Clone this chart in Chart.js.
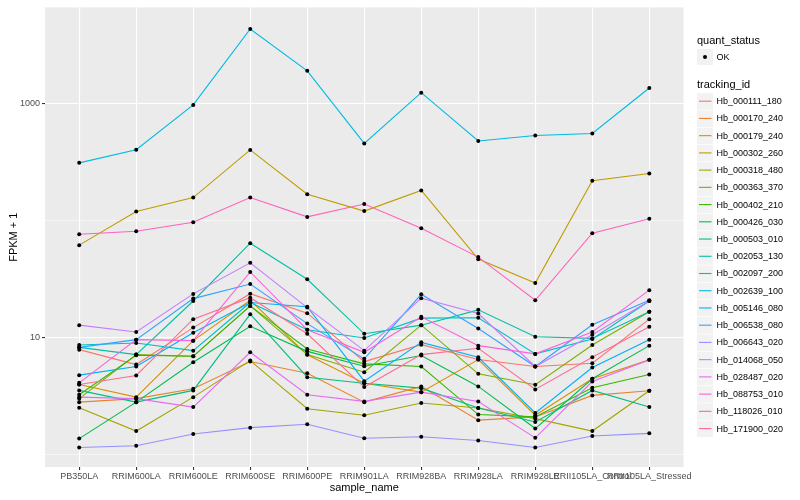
<!DOCTYPE html>
<html>
<head>
<meta charset="utf-8">
<script src="https://cdn.jsdelivr.net/npm/chart.js@4.4.1/dist/chart.umd.min.js"></script>
<style>
body { margin: 0; background: #fff; }
</style>
</head>
<body>
<canvas id="grafico" width="800" height="500"></canvas>
<script>
// amostras no eixo x
var amostras = ["PB350LA", "RRIM600LA", "RRIM600LE", "RRIM600SE", "RRIM600PE", "RRIM901LA",
    "RRIM928BA", "RRIM928LA", "RRIM928LE", "RRII105LA_Control", "RRII105LA_Stressed"];

// valores FPKM + 1 por gene
var hb_000111_180 = [7.90, 5.89, 12.2, 23.8, 16.2, 6.25, 8.72, 6.50, 5.67, 6.04, 14.4];
var hb_000170_240 = [2.81, 3.01, 3.66, 6.25, 4.97, 2.81, 3.83, 1.97, 2.10, 3.21, 3.52];
var hb_000179_240 = [3.98, 3.10, 9.43, 20.9, 7.13, 4.08, 3.42, 6.50, 2.17, 4.45, 6.46];
var hb_000302_260 = [61.9, 120, 158, 404, 169, 121, 182, 47.0, 29.4, 220, 254];
var hb_000318_480 = [2.52, 1.59, 3.10, 6.37, 2.47, 2.17, 2.76, 2.50, 2.03, 1.59, 3.52];
var hb_000363_370 = [3.01, 7.17, 6.93, 18.7, 7.17, 5.07, 12.8, 4.91, 3.96, 8.67, 16.7];
var hb_000402_210 = [3.25, 7.07, 6.93, 18.7, 8.01, 5.97, 5.67, 2.20, 2.10, 3.73, 4.84];
var hb_000426_030 = [1.37, 2.81, 6.16, 12.5, 7.64, 5.70, 7.03, 3.83, 1.67, 4.45, 8.55];
var hb_000503_010 = [3.54, 2.81, 3.54, 15.9, 4.59, 4.08, 3.70, 2.50, 1.90, 3.54, 2.55];
var hb_002053_130 = [8.27, 7.17, 20.6, 64.3, 31.6, 10.8, 12.8, 17.3, 10.2, 9.86, 16.7];
var hb_002097_200 = [8.67, 9.01, 7.75, 20.0, 11.7, 9.94, 14.7, 14.8, 7.27, 9.75, 20.6];
var hb_002639_100 = [313, 406, 981, 4374, 1920, 459, 1248, 482, 537, 559, 1368];
var hb_005146_080 = [4.78, 5.67, 11.0, 20.0, 18.4, 4.25, 9.12, 6.80, 2.27, 5.55, 9.62];
var hb_006538_080 = [8.27, 9.62, 21.6, 28.8, 13.2, 6.59, 23.5, 12.0, 5.67, 12.9, 20.9];
var hb_006643_020 = [1.15, 1.19, 1.50, 1.70, 1.82, 1.38, 1.42, 1.32, 1.15, 1.44, 1.52];
var hb_014068_050 = [12.8, 11.2, 23.7, 43.7, 18.1, 7.75, 21.8, 16.1, 5.67, 10.6, 20.6];
var hb_028487_020 = [3.10, 3.01, 2.55, 7.50, 3.25, 2.85, 3.42, 2.85, 1.39, 4.22, 6.46];
var hb_088753_010 = [4.11, 9.62, 9.43, 36.5, 11.7, 7.50, 15.1, 8.55, 7.27, 11.2, 25.5];
var hb_118026_010 = [76.8, 81.4, 97.1, 158, 108, 139, 86.3, 48.9, 20.9, 78.3, 104];
var hb_171900_020 = [3.98, 4.75, 14.4, 22.0, 10.8, 3.78, 7.17, 8.11, 3.61, 6.80, 12.4];

var genes = ["Hb_000111_180", "Hb_000170_240", "Hb_000179_240", "Hb_000302_260", "Hb_000318_480",
    "Hb_000363_370", "Hb_000402_210", "Hb_000426_030", "Hb_000503_010", "Hb_002053_130",
    "Hb_002097_200", "Hb_002639_100", "Hb_005146_080", "Hb_006538_080", "Hb_006643_020",
    "Hb_014068_050", "Hb_028487_020", "Hb_088753_010", "Hb_118026_010", "Hb_171900_020"];
var valores = [hb_000111_180, hb_000170_240, hb_000179_240, hb_000302_260, hb_000318_480,
    hb_000363_370, hb_000402_210, hb_000426_030, hb_000503_010, hb_002053_130,
    hb_002097_200, hb_002639_100, hb_005146_080, hb_006538_080, hb_006643_020,
    hb_014068_050, hb_028487_020, hb_088753_010, hb_118026_010, hb_171900_020];
var yTicks = [1, 10, 100, 1000];
var yLabels = [10, 1000];

var cores = ["#F8766D", "#EA8331", "#D89000", "#C09B00", "#A3A500", "#7CAE00", "#39B600",
    "#00BB4E", "#00BF7D", "#00C1A3", "#00BFC4", "#00BAE0", "#00B0F6", "#35A2FF",
    "#9590FF", "#C77CFF", "#E76BF3", "#FA62DB", "#FF62BC", "#FF6C91"];

var fonte = "'Liberation Sans', Arial, sans-serif";

var datasets = [];
var pontos = [];
valores.forEach(function(serie, i) {
    var d = serie.map(function(v, j) { return {x: j + 1, y: v}; });
    datasets.push({
        label: genes[i],
        data: d,
        borderColor: cores[i],
        backgroundColor: cores[i],
        borderWidth: 1.1,
        pointRadius: 0,
        fill: false,
        order: 100 - i
    });
    pontos = pontos.concat(d);
});
datasets.push({
    label: "OK",
    data: pontos,
    showLine: false,
    pointRadius: 2,
    pointBackgroundColor: "#000",
    pointBorderWidth: 0,
    order: 0
});

// painel cinza do ggplot
var painel = {
    id: "painel",
    beforeDraw: function(chart) {
        var a = chart.chartArea, c = chart.ctx;
        c.save();
        c.fillStyle = "#EBEBEB";
        c.fillRect(a.left, a.top, a.right - a.left, a.bottom - a.top);
        c.restore();
    }
};

// legenda no estilo ggplot
var legenda = {
    id: "legenda",
    afterDraw: function(chart) {
        var c = chart.ctx;
        c.save();
        c.textBaseline = "middle";
        c.fillStyle = "#000";
        c.font = "11px " + fonte;
        c.fillText("quant_status", 697, 41);
        c.fillStyle = "#F2F2F2";
        c.fillRect(697, 49, 16, 16);
        c.fillStyle = "#000";
        c.beginPath();
        c.arc(705, 57, 2, 0, Math.PI * 2);
        c.fill();
        c.font = "9px " + fonte;
        c.fillText("OK", 716.5, 57.5);

        c.font = "11px " + fonte;
        c.fillText("tracking_id", 697, 84.5);
        for (var i = 0; i < genes.length; i++) {
            var y = 101.2 + i * 17.23;
            c.fillStyle = "#F2F2F2";
            c.fillRect(697, y - 8, 16, 16.5);
            c.strokeStyle = cores[i];
            c.lineWidth = 1.1;
            c.beginPath();
            c.moveTo(699, y);
            c.lineTo(711.5, y);
            c.stroke();
            c.fillStyle = "#000";
            c.font = "9px " + fonte;
            c.fillText(genes[i], 716.5, y + 0.5);
        }
        c.restore();
    }
};

var ctx = document.getElementById('grafico').getContext('2d');
var chart = new Chart(ctx, {
    type: 'line',
    data: { datasets: datasets },
    plugins: [painel, legenda],
    options: {
        responsive: false,
        animation: false,
        layout: { padding: { left: 0, right: 116.5, top: 5, bottom: 0 } },
        plugins: {
            legend: { display: false },
            tooltip: { enabled: false }
        },
        scales: {
            x: {
                type: 'linear',
                min: 0.4,
                max: 11.6,
                afterBuildTicks: function(s) {
                    s.ticks = amostras.map(function(a, i) { return {value: i + 1}; });
                },
                afterFit: function(s) { s.height = 33; },
                border: { display: false },
                grid: { color: "#FFFFFF", lineWidth: 1.1, tickColor: "#333333", tickLength: 3 },
                ticks: {
                    autoSkip: false,
                    maxRotation: 0,
                    minRotation: 0,
                    padding: 1,
                    color: "#4D4D4D",
                    font: { family: fonte, size: 9 },
                    callback: function(v) { return amostras[v - 1]; }
                },
                title: {
                    display: true,
                    text: "sample_name",
                    color: "#000",
                    font: { family: fonte, size: 11 },
                    padding: { top: 0, bottom: 5 }
                }
            },
            y: {
                type: 'logarithmic',
                min: 0.783,
                max: 6693,
                afterBuildTicks: function(s) {
                    s.ticks = yTicks.map(function(v) { return {value: v}; });
                },
                afterFit: function(s) { s.width = 45; },
                border: { display: false },
                grid: {
                    color: "#FFFFFF",
                    lineWidth: function(c) { return yLabels.indexOf(c.tick.value) >= 0 ? 1.1 : 0.55; },
                    tickColor: function(c) { return yLabels.indexOf(c.tick.value) >= 0 ? "#333333" : "rgba(0,0,0,0)"; },
                    tickLength: 3
                },
                ticks: {
                    padding: 2,
                    color: "#4D4D4D",
                    font: { family: fonte, size: 9 },
                    callback: function(v) { return yLabels.indexOf(v) >= 0 ? String(v) : ""; }
                },
                title: {
                    display: true,
                    text: "FPKM + 1",
                    color: "#000",
                    font: { family: fonte, size: 11 },
                    padding: { top: 7, bottom: 0 }
                }
            }
        }
    }
});
</script>
</body>
</html>
